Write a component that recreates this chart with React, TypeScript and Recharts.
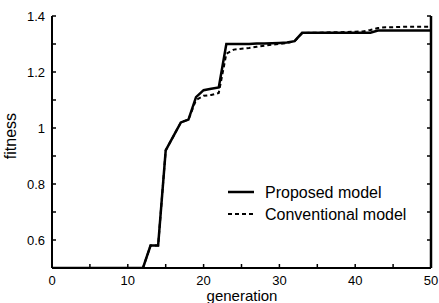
import React from 'react';
import { LineChart, Line, XAxis, YAxis, Legend } from 'recharts';

// generations 0..50, values (below 0.5 sits on the axis)
const generations = [
  0, 1, 2, 3, 4, 5, 6, 7, 8, 9, 10, 11, 12, 13, 14, 15, 16, 17, 18, 19, 20, 21, 22, 23, 24, 25,
  26, 27, 28, 29, 30, 31, 32, 33, 34, 35, 36, 37, 38, 39, 40, 41, 42, 43, 44, 45, 46, 47, 48, 49, 50,
];

const proposedFitness = [
  0.5, 0.5, 0.5, 0.5, 0.5, 0.5, 0.5, 0.5, 0.5, 0.5, 0.5, 0.5, 0.5,
  0.58, 0.58, 0.92, 0.97, 1.02, 1.03, 1.11, 1.135, 1.14, 1.145,
  1.3, 1.3, 1.3, 1.3, 1.302, 1.302, 1.303, 1.304, 1.305,
  1.31, 1.34,
  1.34, 1.34, 1.34, 1.34, 1.34, 1.34, 1.34, 1.34, 1.34,
  1.348, 1.348, 1.348, 1.348, 1.348, 1.348, 1.348, 1.348,
];

const conventionalFitness = [
  0.5, 0.5, 0.5, 0.5, 0.5, 0.5, 0.5, 0.5, 0.5, 0.5, 0.5, 0.5, 0.5,
  0.58, 0.58, 0.92, 0.97, 1.02, 1.03,
  1.1, 1.115, 1.118, 1.125,
  1.265, 1.28, 1.283, 1.286, 1.29, 1.294, 1.298, 1.3, 1.303,
  1.31, 1.338,
  1.34, 1.34, 1.341, 1.342, 1.342, 1.343, 1.344, 1.345,
  1.35, 1.357,
  1.36, 1.36, 1.361, 1.362, 1.362, 1.362, 1.362,
];

const seriesNames = ['Proposed model', 'Conventional model'];

const xTicks = [0, 5, 10, 15, 20, 25, 30, 35, 40, 45, 50];
const xTickLabels = [0, 10, 20, 30, 40, 50];
const yTicks = [0.5, 0.6, 0.7, 0.8, 0.9, 1, 1.1, 1.2, 1.3, 1.4];
const yTickLabels = ['0.6', '0.8', '1', '1.2', '1.4'];

const data = generations.map((g, i) => ({
  gen: g,
  proposed: proposedFitness[i],
  conventional: conventionalFitness[i],
}));

const FONT = '"Liberation Sans", Arial, Helvetica, sans-serif';

const BottomTick = (props: any) => {
  const { x, y, payload } = props;
  const v = payload.value;
  return (
    <g>
      <line x1={x} y1={y} x2={x} y2={y - 4} stroke="#000" strokeWidth={1.5} />
      {xTickLabels.includes(v) && (
        <text x={x} y={y + 16.5} textAnchor="middle" fontSize={13} fontFamily={FONT} fill="#000">
          {v}
        </text>
      )}
    </g>
  );
};

const TopTick = (props: any) => {
  const { x, y } = props;
  return <line x1={x} y1={y} x2={x} y2={y + 4} stroke="#000" strokeWidth={1.5} />;
};

const LeftTick = (props: any) => {
  const { x, y, payload } = props;
  const label = String(payload.value);
  return (
    <g>
      <line x1={x} y1={y} x2={x + 4} y2={y} stroke="#000" strokeWidth={1.5} />
      {yTickLabels.includes(label) && (
        <text x={x - 7} y={y + 4.5} textAnchor="end" fontSize={13} fontFamily={FONT} fill="#000">
          {label}
        </text>
      )}
    </g>
  );
};

const RightTick = (props: any) => {
  const { x, y } = props;
  return <line x1={x} y1={y} x2={x - 4} y2={y} stroke="#000" strokeWidth={1.5} />;
};

const AxisTitle = (props: any) => {
  const { tx, ty, rotate, text, size } = props;
  return (
    <text
      x={tx}
      y={ty}
      textAnchor="middle"
      fontSize={size}
      fontFamily={FONT}
      fill="#000"
      transform={rotate ? `rotate(-90 ${tx} ${ty})` : undefined}
    >
      {text}
    </text>
  );
};

const renderLegend = (props: any) => {
  const items = [...(props.payload || [])].sort(
    (a: any, b: any) => seriesNames.indexOf(a.value) - seriesNames.indexOf(b.value)
  );
  return (
    <svg width={210} height={50}>
      {items.map((entry: any, i: number) => {
        const dashed = entry.value === seriesNames[1];
        return (
          <g key={entry.value} transform={`translate(0, ${i * 22})`}>
            <line
              x1={0}
              x2={26}
              y1={12}
              y2={12}
              stroke="#000"
              strokeWidth={dashed ? 2 : 2.5}
              strokeDasharray={dashed ? '4 3' : undefined}
            />
            <text x={37} y={17.5} fontSize={16} fontFamily={FONT} fill="#000">
              {entry.value}
            </text>
          </g>
        );
      })}
    </svg>
  );
};

const axisLine = { stroke: '#000', strokeWidth: 2 };

export default function App() {
  return (
    <div style={{ position: 'absolute', left: 0, top: 0, width: 439, height: 303, background: '#fff' }}>
      <LineChart width={439} height={303} data={data} margin={{ top: 16, right: 0, left: 0, bottom: 0 }}>
        <XAxis
          xAxisId="bottom"
          dataKey="gen"
          type="number"
          domain={[0, 50]}
          ticks={xTicks}
          interval={0}
          height={35}
          axisLine={axisLine}
          tickLine={false}
          tickSize={0}
          tickMargin={0}
          tick={<BottomTick />}
          label={<AxisTitle tx={242} ty={300.5} size={15} text="generation" />}
        />
        <XAxis
          xAxisId="top"
          orientation="top"
          dataKey="gen"
          type="number"
          domain={[0, 50]}
          ticks={xTicks}
          interval={0}
          height={0}
          axisLine={axisLine}
          tickLine={false}
          tickSize={0}
          tickMargin={0}
          tick={<TopTick />}
        />
        <YAxis
          yAxisId="left"
          type="number"
          domain={[0.5, 1.4]}
          allowDataOverflow
          ticks={yTicks}
          interval={0}
          width={52}
          axisLine={axisLine}
          tickLine={false}
          tickSize={0}
          tickMargin={0}
          tick={<LeftTick />}
          label={<AxisTitle tx={16} ty={136} rotate size={16} text="fitness" />}
        />
        <YAxis
          yAxisId="right"
          orientation="right"
          type="number"
          domain={[0.5, 1.4]}
          allowDataOverflow
          ticks={yTicks}
          interval={0}
          width={8}
          axisLine={{ stroke: '#000', strokeWidth: 2.5 }}
          tickLine={false}
          tickSize={0}
          tickMargin={0}
          tick={<RightTick />}
        />
        <Legend
          layout="vertical"
          align="center"
          verticalAlign="middle"
          content={renderLegend}
          wrapperStyle={{ left: 228, top: 180, width: 210, height: 50 }}
        />
        <Line
          xAxisId="bottom"
          yAxisId="left"
          type="linear"
          dataKey="proposed"
          name={seriesNames[0]}
          stroke="#000"
          strokeWidth={2.5}
          dot={false}
          isAnimationActive={false}
        />
        <Line
          xAxisId="bottom"
          yAxisId="left"
          type="linear"
          dataKey="conventional"
          name={seriesNames[1]}
          stroke="#000"
          strokeWidth={2}
          strokeDasharray="4 3"
          dot={false}
          isAnimationActive={false}
        />
      </LineChart>
    </div>
  );
}
